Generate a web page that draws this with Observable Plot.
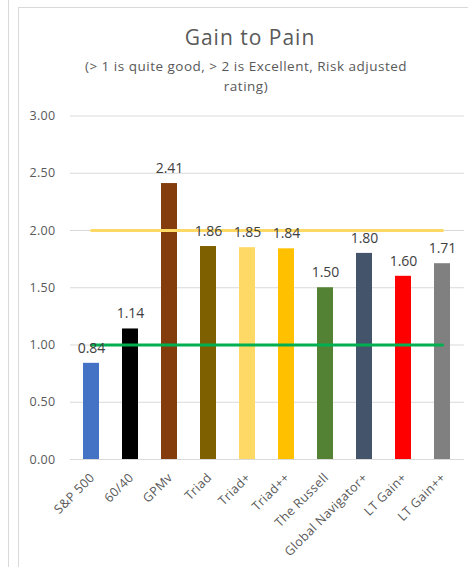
<!DOCTYPE html>
<html>
<head>
<meta charset="utf-8">
<script src="https://cdn.jsdelivr.net/npm/d3@7"></script>
<script src="https://cdn.jsdelivr.net/npm/@observablehq/plot@0.6"></script>
<style>
  html, body { margin: 0; padding: 0; background: #fff; }
  body { width: 468px; height: 567px; overflow: hidden; position: relative; font-family: "Open Sans", Lato, sans-serif; }
  .edge { position: absolute; left: 8px; top: 0; width: 1px; height: 567px; background: #d9d9d9; }
  .frame { position: absolute; left: 18px; top: 7px; width: 480px; height: 600px; border: 1px solid #d9d9d9; box-sizing: border-box; }
  .title { position: absolute; left: 18px; width: 464px; text-align: center; color: #595959; }
  #t1 { top: 23px; font-size: 21px; line-height: 28px; letter-spacing: 1px; }
  #t2 { top: 56px; font-size: 13.5px; line-height: 20px; left: 14px; letter-spacing: 0.5px; }
  #chart { position: absolute; left: 0; top: 0; }
  #chart g[aria-label="x-axis tick label"] text { letter-spacing: 0.4px; }
  #chart g[aria-label="y-axis tick label"] text { letter-spacing: 0.3px; }
</style>
</head>
<body>
<div class="edge"></div>
<div class="frame"></div>
<div class="title" id="t1">Gain to Pain</div>
<div class="title" id="t2">(&gt; 1 is quite good, &gt; 2 is Excellent, Risk adjusted<br>rating)</div>
<div id="chart"></div>
<script>
// Gain-to-pain ratio for each strategy
const strategies = ["S&P 500", "60/40", "GPMv", "Triad", "Triad+", "Triad++", "The Russell", "Global Navigator+", "LT Gain+", "LT Gain++"];
const ratios = [0.84, 1.14, 2.41, 1.86, 1.85, 1.84, 1.50, 1.80, 1.60, 1.71];
const barColors = ["#4472C4", "#000000", "#843C0C", "#7F6000", "#FFD966", "#FFC000", "#548235", "#44546A", "#FF0000", "#808080"];
// Threshold lines: "quite good" and "excellent"
const goodLevel = 1;
const excellentLevel = 2;
const yTicks = [0, 0.5, 1, 1.5, 2, 2.5, 3];

const rows = strategies.map((name, i) => ({name, value: ratios[i], color: barColors[i]}));
const goodLine = strategies.map(name => ({name, value: goodLevel}));
const excellentLine = strategies.map(name => ({name, value: excellentLevel}));

const chart = Plot.plot({
  width: 468,
  height: 567,
  marginTop: 115.5,
  marginBottom: 108,
  marginLeft: 70,
  marginRight: 4,
  style: {fontFamily: "'Open Sans', Lato, sans-serif", fontSize: "12px", color: "#595959", background: "transparent"},
  x: {domain: strategies, paddingInner: 0.58, paddingOuter: 0.29, label: null},
  y: {domain: [0, 3], label: null},
  marks: [
    Plot.gridY(yTicks, {stroke: "#d9d9d9", strokeOpacity: 1, strokeWidth: 1}),
    Plot.axisY(yTicks, {tickFormat: d3.format(".2f"), tickSize: 0, tickPadding: 15, fontSize: 12.5, fill: "#595959"}),
    Plot.barY(rows, {x: "name", y: "value", fill: "color"}),
    Plot.ruleY([0], {stroke: "#d9d9d9", strokeWidth: 1}),
    Plot.lineY(excellentLine, {x: "name", y: "value", stroke: "#FFD966", strokeWidth: 3}),
    Plot.lineY(goodLine, {x: "name", y: "value", stroke: "#00B050", strokeWidth: 3}),
    Plot.text(rows, {x: "name", y: "value", text: d => d3.format(".2f")(d.value), dy: -15, fill: "#404040", fontSize: 14}),
    Plot.axisX({tickSize: 0, tickPadding: 16, dx: 1, tickRotate: -45, fontSize: 12.5, fill: "#595959", label: null})
  ]
});
document.getElementById("chart").appendChild(chart);
</script>
</body>
</html>
